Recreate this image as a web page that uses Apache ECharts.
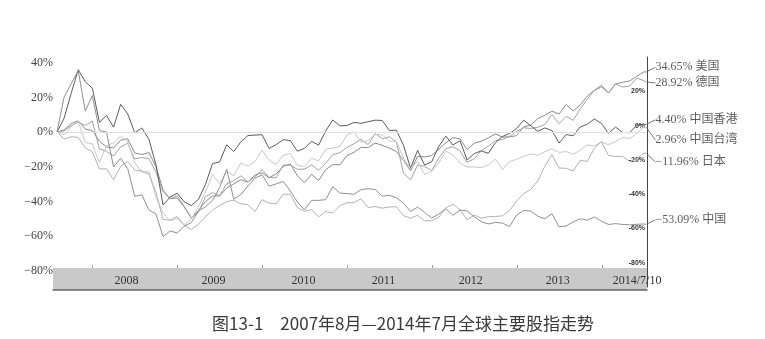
<!DOCTYPE html>
<html><head><meta charset="utf-8">
<script src="https://cdn.jsdelivr.net/npm/echarts@6/dist/echarts.min.js"></script>
<style>html,body{margin:0;padding:0;background:#fff}#c{width:765px;height:339px}</style>
</head><body><div id="c"></div>
<script>
// ---- data (percent change since Aug 2007; monthly, start, month-ends Aug 2007..Jun 2014, final 2014/7/10) ----
const countries = ['美国', '德国', '中国香港', '中国台湾', '日本', '中国'];
const yearLabels = ['2008', '2009', '2010', '2011', '2012', '2013', '2014/7/10'];
const leftTicks = [40, 20, 0, -20, -40, -60, -80];
const rightTicks = [20, 0, -20, -40, -60, -80];
const caption = '图13-1　2007年8月—2014年7月全球主要股指走势';

const usValues = [0,
  1.3, 4.9, 6.5, 1.8, 0.9,
  -5.3, -8.5, -9.1, -4.7, -3.8, -12.0, -12.9, -11.8, -19.9, -33.4, -38.4, -37.9,
  -43.2, -49.5, -45.2, -40.0, -36.8, -36.8, -32.2, -29.8, -27.4, -28.8, -24.7, -23.4,
  -26.2, -24.1, -19.7, -18.4, -25.2, -29.1, -24.3, -27.9, -21.6, -18.7, -18.8, -13.5,
  -11.6, -8.8, -8.9, -6.3, -7.6, -9.2, -11.2, -16.2, -22.3, -13.9, -14.3, -13.5,
  -9.8, -6.1, -3.2, -3.9, -10.0, -6.4, -5.2, -3.3, -1.0, -2.9, -2.7, -2.0,
  3.0, 4.1, 7.8, 9.8, 12.1, 10.4, 15.9, 12.2, 15.6, 20.8, 24.1, 27.0,
  22.5, 27.8, 28.7, 29.5, 32.2, 34.7,
  34.65];
const deValues = [0,
  0.7, 3.7, 5.7, 3.8, 6.4,
  -9.7, -11.0, -13.8, -8.4, -6.4, -15.4, -14.6, -15.3, -23.1, -34.2, -38.4, -36.6,
  -42.8, -49.3, -46.1, -37.1, -34.8, -36.6, -29.7, -28.0, -25.2, -28.6, -25.8, -21.5,
  -26.1, -26.2, -18.9, -19.1, -21.4, -21.3, -18.9, -21.9, -17.9, -13.0, -11.8, -8.8,
  -6.7, -4.1, -7.2, -0.9, -3.8, -2.7, -5.6, -23.7, -27.5, -19.0, -19.7, -22.2,
  -14.8, -9.6, -8.4, -10.8, -17.4, -15.4, -10.7, -8.1, -4.9, -4.3, -2.4, 0.4,
  2.5, 2.1, 2.8, 4.4, 10.1, 4.9, 9.1, 6.8, 13.3, 19.1, 24.0, 26.0,
  22.7, 27.8, 26.0, 26.6, 31.1, 29.7,
  28.92];
const hkValues = [0,
  8.0, 22.3, 36.0, 29.0, 25.3,
  5.7, 9.6, 2.9, 16.0, 10.5, -0.4, 2.4, -4.2, -18.8, -42.0, -37.4, -35.2,
  -40.2, -42.3, -38.8, -30.1, -18.1, -17.2, -7.3, -11.2, -5.6, -2.0, -1.7, -1.5,
  -9.4, -7.2, -4.3, -4.9, -11.0, -9.3, -5.3, -7.5, 0.7, 7.0, 3.6, 3.8,
  5.6, 5.1, 6.0, 6.9, 6.7, 0.9, 1.1, -7.5, -20.8, -10.5, -19.0, -17.0,
  -8.2, -2.3, -7.4, -5.0, -16.1, -12.4, -10.8, -12.2, -6.1, -2.5, -0.8, 2.1,
  6.9, 3.7, 0.5, 2.4, 0.9, -6.3, -1.4, -2.1, 3.0, 4.5, 7.6, 5.0,
  -0.7, 2.9, -0.2, -0.3, 4.0, 4.5,
  4.40];
const twValues = [0,
  -1.6, 3.1, 6.4, -6.0, -6.8,
  -17.6, -7.9, -6.1, -2.3, -5.6, -17.6, -23.1, -22.8, -37.3, -46.6, -51.1, -49.7,
  -53.5, -50.1, -42.9, -34.4, -24.5, -29.6, -22.5, -25.2, -17.8, -19.6, -17.0, -10.3,
  -16.3, -18.6, -13.3, -12.3, -19.2, -19.7, -15.0, -16.6, -9.8, -9.2, -8.3, -1.7,
  0.2, -5.8, -4.9, -1.3, -1.6, -5.2, -5.3, -15.2, -20.9, -16.9, -24.4, -22.5,
  -17.7, -11.1, -13.1, -17.8, -20.0, -20.1, -20.4, -19.0, -15.5, -21.5, -17.0, -15.7,
  -14.0, -12.6, -13.3, -11.3, -9.6, -11.7, -11.2, -12.7, -10.5, -7.4, -7.9, -5.7,
  -7.3, -5.4, -3.1, -3.7, -0.6, 2.9,
  2.96];
const jpValues = [0,
  -3.9, -2.7, -3.0, -9.1, -11.3,
  -21.2, -21.1, -27.4, -19.7, -16.9, -21.8, -22.4, -24.2, -34.7, -50.3, -50.7, -48.6,
  -53.7, -56.1, -53.0, -48.8, -44.8, -42.3, -40.0, -39.2, -41.3, -41.8, -45.8, -38.9,
  -40.9, -41.3, -35.7, -35.9, -43.4, -45.6, -44.7, -48.8, -45.7, -46.6, -42.4, -40.7,
  -40.6, -38.4, -43.4, -42.9, -43.8, -43.1, -43.0, -48.1, -49.6, -47.9, -51.1, -51.0,
  -49.0, -43.6, -41.5, -44.8, -50.5, -47.8, -49.6, -48.7, -48.6, -48.2, -45.2, -39.7,
  -35.4, -33.0, -28.1, -19.6, -13.0, -20.7, -20.8, -22.4, -16.2, -16.9, -9.2, -5.5,
  -13.5, -14.0, -14.0, -17.1, -15.2, -12.1,
  -11.96];
const cnValues = [0,
  20.1, 27.8, 35.5, 12.1, 21.1,
  0.9, 0.1, -20.1, -15.0, -21.0, -37.0, -36.1, -44.8, -47.2, -60.2, -56.9, -58.1,
  -54.2, -52.1, -45.4, -43.0, -39.4, -31.9, -21.5, -38.6, -36.0, -31.0, -26.5, -24.6,
  -31.2, -29.8, -28.4, -33.9, -40.3, -44.8, -39.3, -39.3, -38.9, -31.4, -35.1, -35.4,
  -35.8, -33.1, -32.6, -33.0, -36.9, -36.4, -37.8, -40.9, -45.7, -43.2, -46.3, -49.4,
  -47.2, -44.1, -47.9, -44.9, -45.4, -48.8, -51.6, -52.9, -52.0, -52.4, -54.4, -47.8,
  -45.1, -45.5, -48.5, -49.9, -47.0, -54.5, -54.1, -51.7, -49.9, -50.7, -48.9, -51.3,
  -53.2, -52.7, -53.2, -53.4, -53.1, -52.9,
  -53.09];

const seriesValues = [usValues, deValues, hkValues, twValues, jpValues, cnValues];

// ---- layout / style ----
const LAST_MONTH = 83.3;          // 2014/7/10 in months after 2007/8/1
const yearTickMonths = [5, 17, 29, 41, 53, 65, 77];
const yearLabelMonths = [9.8, 22.1, 34.8, 46.1, 58.4, 70.7, 81.9];
const lineColors = ['#8a8a8a', '#a3a3a3', '#5c5c5c', '#c8c8c8', '#b2b2b2', '#909090'];
const labelDy = [-4.7, 1, -4.6, 13.2, 9.2, -4.4];
const serif = '"Liberation Serif","DejaVu Serif","Noto Sans CJK SC",serif';

function monthX(i, n) { return i === n - 1 ? LAST_MONTH : i; }
function pct(v) { return (v < 0 ? '\u2212' : '') + Math.abs(v) + '%'; }

const chart = echarts.init(document.getElementById('c'));
const lineSeries = seriesValues.map((vals, k) => ({
  type: 'line', name: countries[k], xAxisIndex: 0, yAxisIndex: 0,
  showSymbol: false, symbol: 'none', silent: true, animation: false,
  lineStyle: { color: lineColors[k], width: 1 },
  data: vals.map((v, i) => [monthX(i, vals.length), v]),
  markLine: k === 0 ? {
    silent: true, symbol: 'none', label: { show: false },
    lineStyle: { color: '#ecdccc', width: 1, type: 'solid' },
    data: [{ yAxis: 0 }]
  } : undefined,
  z: 3
}));

const endSeries = {
  type: 'scatter', xAxisIndex: 0, yAxisIndex: 0, silent: true, animation: false,
  symbolSize: 1, itemStyle: { color: 'rgba(0,0,0,0)' },
  data: countries.map((c, k) => ({ name: c, value: [LAST_MONTH, seriesValues[k][seriesValues[k].length - 1]] })),
  label: {
    show: true, position: 'right', distance: 9,
    fontFamily: serif, fontSize: 12, color: '#333',
    formatter: p => { const v = p.value[1]; return (v < 0 ? '\u2212' : '') + Math.abs(v).toFixed(2) + '% ' + p.name; }
  },
  labelLayout: p => ({ dy: labelDy[p.dataIndex] }),
  labelLine: { show: true, lineStyle: { color: '#555', width: 0.8 } },
  z: 5
};

const noZero = { onZero: false };

chart.setOption({
  animation: false,
  backgroundColor: '#ffffff',
  title: {
    text: caption, left: 398, top: 310, textAlign: 'center',
    textStyle: { fontFamily: '"Noto Sans CJK SC",sans-serif', fontSize: 17, fontWeight: 'normal', color: '#3a3a3a' }
  },
  grid: [
    { left: 57, right: 119, top: 62.7, height: 208.3 },
    { left: 53, right: 118, top: 268, height: 22, show: true, backgroundColor: '#c9c9c9', borderWidth: 0 },
    { left: 57, right: 118, top: 57, height: 230 }
  ],
  xAxis: [
    { gridIndex: 0, type: 'value', min: 0, max: LAST_MONTH, show: false, axisLine: noZero },
    {
      gridIndex: 1, type: 'value', min: -0.57, max: LAST_MONTH, position: 'top',
      axisLine: { show: false, onZero: false }, splitLine: { show: false },
      axisTick: { show: true, inside: false, length: 3, customValues: yearTickMonths, lineStyle: { color: '#999' } },
      axisLabel: {
        show: true, inside: true, margin: 7, customValues: yearLabelMonths,
        fontFamily: serif, fontSize: 12, color: '#333',
        formatter: v => {
          let best = 0;
          yearLabelMonths.forEach((m, i) => { if (Math.abs(m - v) < Math.abs(yearLabelMonths[best] - v)) best = i; });
          return yearLabels[best];
        }
      }
    },
    {
      gridIndex: 1, type: 'value', min: -0.57, max: LAST_MONTH, position: 'bottom',
      axisLine: { show: true, onZero: false, lineStyle: { color: '#666', width: 1.5 } },
      axisTick: { show: false }, axisLabel: { show: false }, splitLine: { show: false }
    },
    { gridIndex: 2, type: 'value', min: 0, max: LAST_MONTH, show: false, axisLine: noZero }
  ],
  yAxis: [
    {
      gridIndex: 0, type: 'value', min: -80, max: 40, interval: 20,
      axisLine: { show: false, onZero: false }, axisTick: { show: false }, splitLine: { show: false },
      axisLabel: { margin: 4, fontFamily: serif, fontSize: 12, color: '#444', formatter: v => pct(v) }
    },
    { gridIndex: 1, type: 'value', min: 0, max: 1, show: false, axisLine: noZero },
    {
      gridIndex: 2, type: 'value', position: 'right', min: -94.1, max: 40,
      axisLine: { show: true, onZero: false, lineStyle: { color: '#444', width: 1 } },
      axisTick: { show: false }, splitLine: { show: false },
      axisLabel: {
        inside: true, margin: 2, customValues: rightTicks,
        fontFamily: '"Liberation Sans Narrow","Liberation Sans",sans-serif', fontSize: 7, fontWeight: 'bold', color: '#333',
        formatter: v => v + '%'
      }
    }
  ],
  series: [...lineSeries, endSeries]
});
</script>
</body></html>
